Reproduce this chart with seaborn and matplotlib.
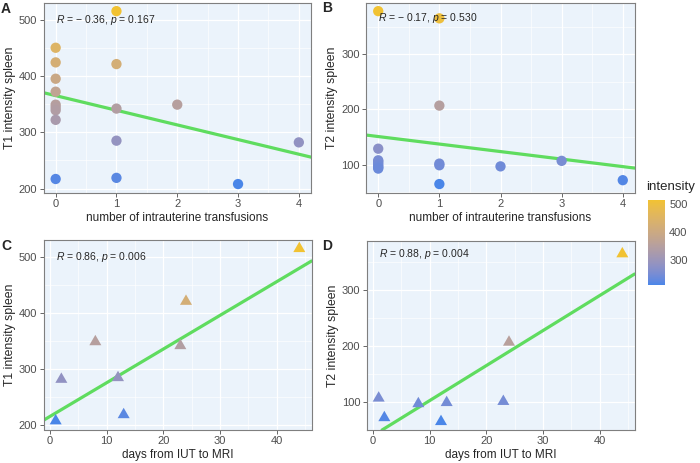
import numpy as np
import pandas as pd
import seaborn as sns
import matplotlib.pyplot as plt
from matplotlib.colors import LinearSegmentedColormap, Normalize
from matplotlib.ticker import MultipleLocator, AutoMinorLocator
import matplotlib.cm as cm

# panel A / B : number of IUTs vs spleen intensity
iut_a = [0, 0, 0, 0, 0, 0, 0, 0, 0, 1, 1, 1, 1, 1, 2, 3, 4]
t1_a = [450, 424, 395, 372, 349, 344, 339, 322, 217, 515, 421, 342, 285, 219, 349, 208, 282]
iut_b = [0, 0, 0, 0, 0, 0, 0, 0, 0, 1, 1, 1, 1, 1, 2, 3, 4]
t2_b = [378, 129, 108, 106, 103, 100, 97, 95, 93, 365, 207, 102, 99, 65, 97, 107, 72]

# panel C / D : days from IUT to MRI vs spleen intensity
days = [44, 24, 23, 12, 13, 8, 1, 2]
t1_c = [515, 421, 342, 285, 219, 349, 208, 282]
t2_d = [365, 207, 101, 65, 99, 97, 107, 72]

# fitted lines as shown in the figure (value at x = 0, slope)
fit_intercept = [365, 151, 216, 40]
fit_slope = [-26.0, -13.6, 6.0, 6.26]

labels = ["R = \u2212 0.36, p = 0.167", "R = \u2212 0.17, p = 0.530",
          "R = 0.86, p = 0.006", "R = 0.88, p = 0.004"]
label_y = [500, 365, 500, 365]

# y range of panel D as printed (others follow the data)
ylim_d = (50, 388)

low_col, high_col = "#4A86E8", "#F1C232"
line_col = "#5FDC5F"

# equilateral triangle centred on its centroid (like ggplot shape 17)
tri = [(0, 1), (-0.866, -0.5), (0.866, -0.5)]

# ggplot-like gradient: interpolate in Lab space
M = np.array([[0.4124, 0.3576, 0.1805], [0.2126, 0.7152, 0.0722], [0.0193, 0.1192, 0.9505]])
WHITE = np.array([0.95047, 1.0, 1.08883])


def hex_to_lab(h):
    c = np.array([int(h[i:i + 2], 16) / 255 for i in (1, 3, 5)])
    lin = np.where(c <= 0.04045, c / 12.92, ((c + 0.055) / 1.055) ** 2.4)
    xyz = M @ lin / WHITE
    f = np.where(xyz > 0.008856, np.cbrt(xyz), 7.787 * xyz + 16 / 116)
    return np.array([116 * f[1] - 16, 500 * (f[0] - f[1]), 200 * (f[1] - f[2])])


def lab_to_rgb(lab):
    L, a, b = lab
    fy = (L + 16) / 116
    f = np.array([fy + a / 500, fy, fy - b / 200])
    xyz = np.where(f ** 3 > 0.008856, f ** 3, (f - 16 / 116) / 7.787) * WHITE
    lin = np.clip(np.linalg.inv(M) @ xyz, 0, 1)
    return np.where(lin <= 0.0031308, 12.92 * lin, 1.055 * lin ** (1 / 2.4) - 0.055).clip(0, 1)


l0, l1 = hex_to_lab(low_col), hex_to_lab(high_col)
stops = [lab_to_rgb(l0 + (l1 - l0) * t) for t in np.linspace(0, 1, 64)]
cmap = LinearSegmentedColormap.from_list("intensity", stops)

sns.set_style("whitegrid", {"axes.facecolor": "#EBF3FB", "grid.color": "white",
                            "axes.edgecolor": "#7F7F7F", "axes.linewidth": 0.8})
plt.rcParams["font.family"] = ["Liberation Sans", "DejaVu Sans"]
plt.rcParams["mathtext.fontset"] = "custom"
plt.rcParams["mathtext.rm"] = "Liberation Sans"
plt.rcParams["mathtext.it"] = "Liberation Sans:italic"

fig = plt.figure(figsize=(7, 4.63), dpi=100)
W, H = 700, 463


def px_axes(l, t, r, b):
    return fig.add_axes([l / W, 1 - b / H, (r - l) / W, (b - t) / H])


axA = px_axes(43.5, 2.5, 311, 192.7)
axB = px_axes(366, 2.5, 635, 192.7)
axC = px_axes(43.5, 240, 311.5, 429.5)
axD = px_axes(366.5, 241, 634.5, 430)

panels = [
    (axA, iut_a, t1_a, "o", 55, "number of intrauterine transfusions", "T1 intensity spleen", 1),
    (axB, iut_b, t2_b, "o", 55, "number of intrauterine transfusions", "T2 intensity spleen", 1),
    (axC, days, t1_c, tri, 100, "days from IUT to MRI", "T1 intensity spleen", 10),
    (axD, days, t2_d, tri, 100, "days from IUT to MRI", "T2 intensity spleen", 10),
]

for i, (ax, x, y, mk, sz, xl, yl, xstep) in enumerate(panels):
    df = pd.DataFrame({"x": x, "y": y})
    sns.scatterplot(data=df, x="x", y="y", hue="y", palette=cmap, marker=mk, s=sz,
                    linewidth=0, legend=False, ax=ax, zorder=3)
    xlim, ylim = ax.get_xlim(), ax.get_ylim()
    if ax is axD:
        ylim = ylim_d
    ax.axline((0, fit_intercept[i]), slope=fit_slope[i], color=line_col, lw=2.3, zorder=2)
    ax.set_xlim(xlim)
    ax.set_ylim(ylim)
    ax.set_axisbelow(True)
    ax.xaxis.set_major_locator(MultipleLocator(xstep))
    ax.yaxis.set_major_locator(MultipleLocator(100))
    ax.xaxis.set_minor_locator(AutoMinorLocator(2))
    ax.yaxis.set_minor_locator(AutoMinorLocator(2))
    ax.grid(which="major", color="white", lw=0.9)
    ax.grid(which="minor", color="white", lw=0.45)
    ax.tick_params(which="major", length=3, width=0.6, color="#4D4D4D", labelsize=8,
                   labelcolor="#4D4D4D", pad=1.5, bottom=True, left=True)
    ax.tick_params(which="minor", length=0)
    ax.set_xlabel(xl, fontsize=8.5, labelpad=2)
    ax.set_ylabel(yl, fontsize=8.8, labelpad=2)
    r, p = labels[i].split(", ")
    txt = "$R$" + r[1:] + ", $p$" + p[1:]
    ax.text(min(x), label_y[i], txt, fontsize=7.5, va="center", ha="left", zorder=4)

for letter, (px, py) in zip("ABCD", [(1, 2), (322, 1), (1, 239), (322, 239)]):
    fig.text(px / W, 1 - py / H, letter, fontsize=10, fontweight="bold", va="top", ha="left")

# shared colour legend (from panel A)
cax = px_axes(648, 200, 665, 285)
sm = cm.ScalarMappable(norm=Normalize(min(t1_a), max(t1_a)), cmap=cmap)
cb = fig.colorbar(sm, cax=cax, ticks=[300, 400, 500])
cb.outline.set_visible(False)
cb.ax.tick_params(length=3, width=0.6, color="white", labelsize=8, labelcolor="#4D4D4D", pad=3,
                  direction="in", left=True)
fig.text(646 / W, 1 - 187 / H, "intensity", fontsize=9.5, ha="left", va="center")

fig.savefig("out.png", dpi=100)
